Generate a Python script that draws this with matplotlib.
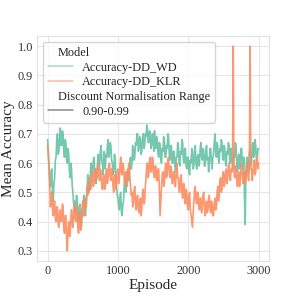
import matplotlib
matplotlib.use("Agg")
import matplotlib.pyplot as plt
from matplotlib.lines import Line2D
import numpy as np
import seaborn as sns

# mean accuracy, one value every 10 episodes
acc_wd = [
    0.68, 0.64, 0.60, 0.55, 0.52, 0.57, 0.58, 0.49, 0.47, 0.53, 0.55, 0.61, 0.62, 0.68, 0.70, 0.63, 0.64, 0.69, 0.72, 0.66,
    0.66, 0.71, 0.70, 0.64, 0.62, 0.68, 0.67, 0.61, 0.60, 0.65, 0.63, 0.57, 0.55, 0.60, 0.58, 0.52, 0.50, 0.46, 0.47, 0.43,
    0.44, 0.49, 0.48, 0.41, 0.40, 0.45, 0.46, 0.39, 0.38, 0.44, 0.45, 0.48, 0.49, 0.43, 0.42, 0.47, 0.50, 0.56, 0.55, 0.50,
    0.52, 0.58, 0.60, 0.55, 0.56, 0.61, 0.62, 0.57, 0.58, 0.53, 0.55, 0.60, 0.63, 0.58, 0.59, 0.64, 0.66, 0.61, 0.60, 0.56,
    0.64, 0.60, 0.58, 0.63, 0.62, 0.66, 0.68, 0.62, 0.63, 0.67, 0.66, 0.61, 0.60, 0.56, 0.57, 0.63, 0.62, 0.55, 0.52, 0.49,
    0.48, 0.45, 0.44, 0.49, 0.50, 0.43, 0.42, 0.46, 0.47, 0.53, 0.55, 0.50, 0.52, 0.57, 0.58, 0.54, 0.56, 0.61, 0.62, 0.58,
    0.60, 0.66, 0.65, 0.61, 0.62, 0.67, 0.66, 0.70, 0.70, 0.64, 0.65, 0.69, 0.68, 0.63, 0.64, 0.69, 0.70, 0.65, 0.66, 0.70,
    0.69, 0.73, 0.72, 0.67, 0.67, 0.71, 0.70, 0.65, 0.66, 0.70, 0.69, 0.64, 0.71, 0.67, 0.65, 0.69, 0.68, 0.63, 0.62, 0.67,
    0.66, 0.61, 0.60, 0.65, 0.64, 0.69, 0.68, 0.62, 0.62, 0.66, 0.65, 0.70, 0.69, 0.63, 0.61, 0.66, 0.66, 0.60, 0.60, 0.64,
    0.64, 0.59, 0.57, 0.62, 0.62, 0.67, 0.66, 0.60, 0.59, 0.64, 0.63, 0.68, 0.67, 0.61, 0.60, 0.65, 0.65, 0.59, 0.58, 0.62,
    0.62, 0.57, 0.56, 0.61, 0.60, 0.65, 0.64, 0.58, 0.59, 0.64, 0.66, 0.60, 0.58, 0.62, 0.63, 0.59, 0.60, 0.65, 0.67, 0.62,
    0.61, 0.65, 0.64, 0.59, 0.59, 0.64, 0.66, 0.61, 0.62, 0.57, 0.60, 0.65, 0.65, 0.60, 0.58, 0.62, 0.63, 0.67, 0.70, 0.64,
    0.62, 0.67, 0.66, 0.61, 0.60, 0.65, 0.64, 0.68, 0.67, 0.62, 0.61, 0.66, 0.65, 0.60, 0.59, 0.64, 0.63, 0.67, 0.66, 0.61,
    0.60, 0.65, 0.64, 0.59, 0.58, 0.63, 0.62, 0.67, 0.66, 0.60, 0.57, 0.62, 0.63, 0.58, 0.60, 0.65, 0.65, 0.59, 0.58, 0.62,
    0.48, 0.39, 0.56, 0.61, 0.62, 0.57, 0.58, 0.64, 0.64, 0.59, 0.60, 0.66, 0.67, 0.62, 0.63, 0.68, 0.66, 0.61, 0.61, 0.65,
    0.65,
]

acc_klr = [
    0.66, 0.62, 0.58, 0.52, 0.45, 0.49, 0.50, 0.44, 0.42, 0.46, 0.47, 0.41, 0.40, 0.45, 0.45, 0.39, 0.38, 0.43, 0.44, 0.40,
    0.40, 0.46, 0.45, 0.38, 0.36, 0.42, 0.42, 0.34, 0.30, 0.37, 0.40, 0.35, 0.35, 0.41, 0.44, 0.39, 0.38, 0.43, 0.46, 0.41,
    0.40, 0.44, 0.45, 0.38, 0.36, 0.41, 0.43, 0.37, 0.39, 0.44, 0.47, 0.42, 0.42, 0.46, 0.48, 0.45, 0.52, 0.49, 0.50, 0.54,
    0.55, 0.51, 0.52, 0.56, 0.57, 0.52, 0.53, 0.58, 0.58, 0.54, 0.55, 0.59, 0.60, 0.55, 0.54, 0.58, 0.57, 0.52, 0.51, 0.55,
    0.56, 0.51, 0.52, 0.57, 0.58, 0.53, 0.55, 0.59, 0.60, 0.55, 0.54, 0.58, 0.57, 0.52, 0.50, 0.55, 0.56, 0.51, 0.53, 0.57,
    0.58, 0.53, 0.54, 0.59, 0.62, 0.57, 0.56, 0.60, 0.59, 0.54, 0.53, 0.57, 0.57, 0.52, 0.55, 0.59, 0.60, 0.55, 0.52, 0.49,
    0.50, 0.45, 0.46, 0.51, 0.52, 0.47, 0.44, 0.48, 0.49, 0.44, 0.43, 0.47, 0.48, 0.42, 0.45, 0.50, 0.51, 0.46, 0.47, 0.52,
    0.55, 0.59, 0.60, 0.55, 0.56, 0.61, 0.62, 0.57, 0.57, 0.62, 0.61, 0.56, 0.55, 0.59, 0.59, 0.54, 0.54, 0.58, 0.58, 0.50,
    0.42, 0.47, 0.52, 0.56, 0.57, 0.52, 0.53, 0.58, 0.60, 0.55, 0.56, 0.61, 0.62, 0.57, 0.55, 0.59, 0.58, 0.53, 0.53, 0.57,
    0.57, 0.52, 0.52, 0.57, 0.60, 0.55, 0.55, 0.50, 0.50, 0.55, 0.56, 0.50, 0.48, 0.53, 0.53, 0.47, 0.46, 0.51, 0.50, 0.45,
    0.44, 0.49, 0.50, 0.44, 0.42, 0.40, 0.38, 0.43, 0.47, 0.51, 0.52, 0.47, 0.46, 0.50, 0.50, 0.45, 0.44, 0.48, 0.48, 0.43,
    0.45, 0.49, 0.50, 0.45, 0.42, 0.46, 0.47, 0.43, 0.44, 0.48, 0.49, 0.44, 0.43, 0.47, 0.46, 0.42, 0.42, 0.46, 0.48, 0.44,
    0.45, 0.50, 0.52, 0.47, 0.49, 0.54, 0.55, 0.50, 0.51, 0.56, 0.57, 0.52, 0.53, 0.57, 0.58, 0.53, 0.55, 0.59, 0.60, 0.55,
    0.54, 0.58, 0.57, 0.60, 1.00, 0.57, 0.55, 0.59, 0.59, 0.54, 0.52, 0.56, 0.57, 0.52, 0.54, 0.58, 0.60, 0.55, 0.53, 0.57,
    0.57, 0.53, 0.55, 0.59, 0.60, 0.55, 0.54, 0.59, 1.00, 0.58, 0.58, 0.54, 0.56, 0.60, 0.61, 0.56, 0.57, 0.61, 0.62, 0.58,
    0.60,
]

episodes = np.arange(len(acc_wd)) * 10

models = ["Accuracy-DD_WD", "Accuracy-DD_KLR"]
ranges = ["0.90-0.99"]
colors = ["#66c2a5", "#fc8d62"]

sns.set_style("whitegrid")
plt.rcParams["font.family"] = ["Liberation Serif", "DejaVu Serif"]
plt.rcParams["axes.edgecolor"] = "0.88"
plt.rcParams["grid.color"] = "0.9"

fig = plt.figure(figsize=(2.99, 2.99), dpi=100)
ax = fig.add_axes([0.124, 0.127, 0.776, 0.753])

for vals, col in zip([acc_wd, acc_klr], colors):
    ax.plot(episodes[:len(vals)], vals, color=col, lw=1.2, alpha=0.9)

ax.set_xticks([0, 1000, 2000, 3000])
yt = np.arange(0.3, 1.01, 0.1)
ax.set_yticks(yt)
ax.set_yticklabels([f"{v:.1f}" for v in yt])
ax.tick_params(labelsize=8.8, colors="0.2", length=0, pad=3)
ax.set_xlabel("Episode", fontsize=11, labelpad=1)
ax.set_ylabel("Mean Accuracy", fontsize=11, labelpad=2)

handles = [Line2D([], [], visible=False)]
labels = ["Model"]
for m, col in zip(models, colors):
    handles.append(Line2D([], [], color=col, lw=1.1, alpha=0.6))
    labels.append(m)
handles.append(Line2D([], [], visible=False))
labels.append("Discount Normalisation Range")
for r in ranges:
    handles.append(Line2D([], [], color="0.35", lw=1.1, alpha=0.7))
    labels.append(r)

leg = ax.legend(handles, labels, loc="upper left", fontsize=8.8,
                handlelength=2.0, labelspacing=0.22, borderpad=0.4,
                handletextpad=0.8)
sns.utils.adjust_legend_subtitles(leg)

fig.savefig("out.png", dpi=100)
